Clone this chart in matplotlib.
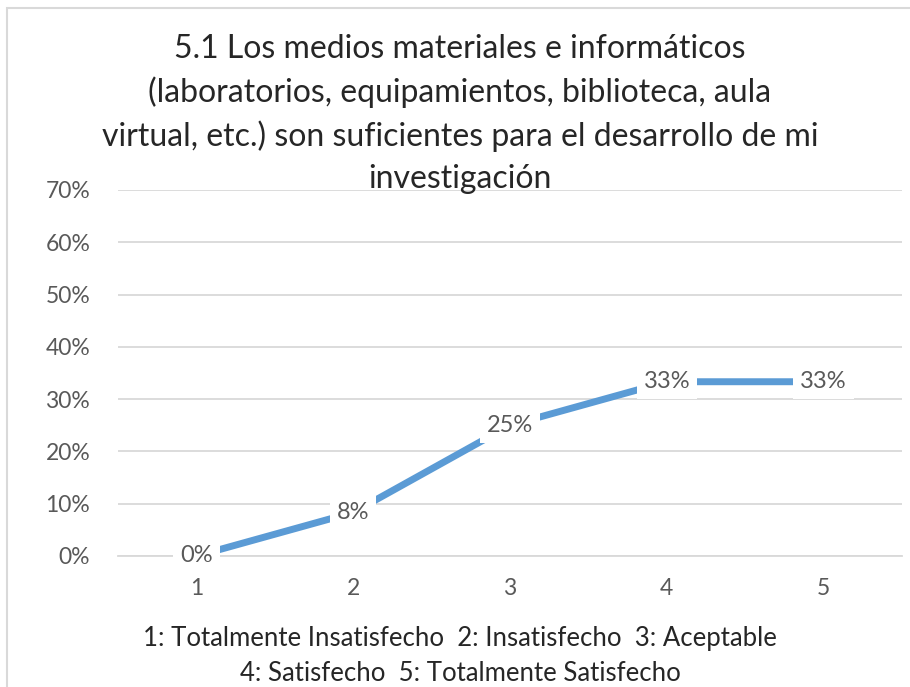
import matplotlib.pyplot as plt
import matplotlib.patches as patches
from matplotlib.ticker import PercentFormatter

plt.rcParams['font.family'] = ['Lato', 'DejaVu Sans']

categories = ['1', '2', '3', '4', '5']
values = [0.0, 0.0833, 0.25, 0.3333, 0.3333]
value_labels = ['0%', '8%', '25%', '33%', '33%']
y_ticks = [0, 0.1, 0.2, 0.3, 0.4, 0.5, 0.6, 0.7]

title = ("5.1 Los medios materiales e informáticos\n"
         "(laboratorios, equipamientos, biblioteca, aula\n"
         "virtual, etc.) son suficientes para el desarrollo de mi\n"
         "investigación")
legend_text = ("1: Totalmente Insatisfecho  2: Insatisfecho  3: Aceptable\n"
               "4: Satisfecho  5: Totalmente Satisfecho")

W, H = 910, 687
fig = plt.figure(figsize=(W / 100, H / 100), dpi=100)
ax = fig.add_axes([118 / W, 1 - 556 / H, (902 - 118) / W, (556 - 190) / H])

x = list(range(1, len(categories) + 1))
ax.plot(x, values, color='#5B9BD5', lw=5, solid_capstyle='butt', zorder=3)

for xi, v, lab in zip(x, values, value_labels):
    ax.text(xi, v, lab, ha='center', va='center', fontsize=17, color='#595959',
            zorder=4, bbox=dict(facecolor='white', edgecolor='none', pad=5))

ax.set_xlim(0.5, 5.5)
ax.set_ylim(0, 0.7)
ax.set_xticks(x)
ax.set_xticklabels(categories)
ax.set_yticks(y_ticks)
ax.yaxis.set_major_formatter(PercentFormatter(1.0, decimals=0))
ax.tick_params(length=0, labelsize=16.5, labelcolor='#595959')
ax.tick_params(axis='x', pad=16)
ax.tick_params(axis='y', pad=20)
ax.grid(axis='y', color='#D9D9D9', lw=1.3)
ax.set_axisbelow(True)
for s in ['top', 'right', 'left']:
    ax.spines[s].set_visible(False)
ax.spines['bottom'].set_color('#D9D9D9')
ax.spines['bottom'].set_linewidth(1.3)

fig.text(460 / W, 1 - 114 / H, title, ha='center', va='center', fontsize=23,
         color='#262626', linespacing=1.5)
fig.text(460 / W, 1 - 656 / H, legend_text, ha='center', va='center',
         fontsize=18.5, color='#262626', linespacing=1.5)

# chart frame
fig.add_artist(patches.Rectangle((7 / W, -0.1), 1.2, 1.1 - 8 / H,
                                 transform=fig.transFigure, fill=False,
                                 edgecolor='#D9D9D9', lw=1.5))

fig.savefig('out.png', dpi=100, facecolor='white')
